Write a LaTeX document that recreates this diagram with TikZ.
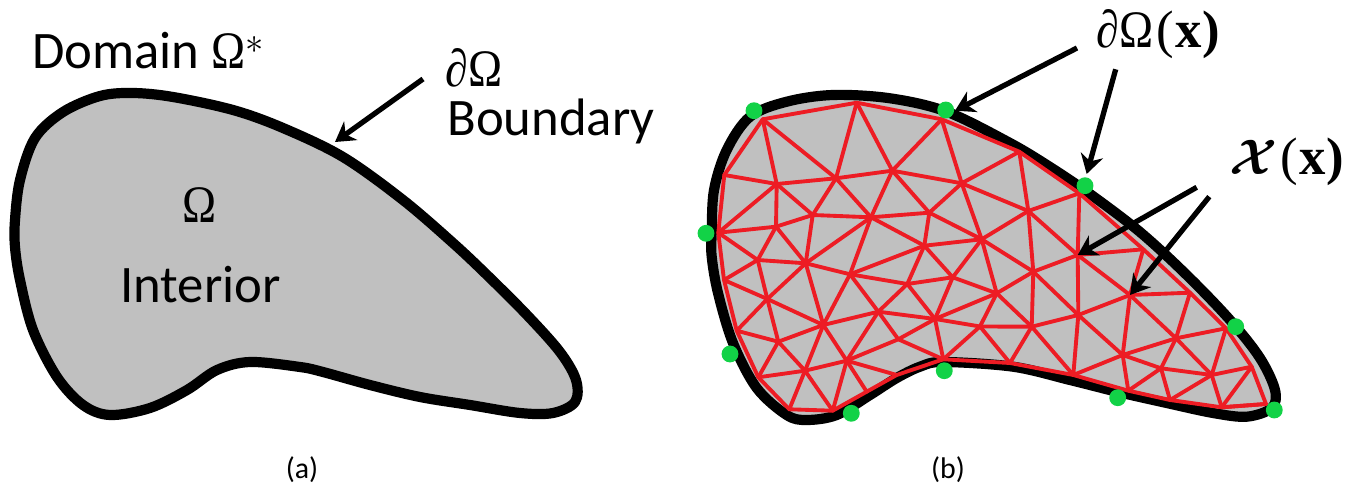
\documentclass[tikz,border=0pt]{standalone}
\usepackage{amsmath,amssymb}
\usepackage[no-math]{fontspec}
\setmainfont{Carlito}
\newfontfamily\symfont[FakeStretch=0.87]{Liberation Serif}
\newfontfamily\parenfont{Liberation Serif}
\usepackage{tikz}
\usetikzlibrary{arrows.meta, positioning}
\definecolor{meshred}{RGB}{237,28,36}
\definecolor{bndgreen}{RGB}{18,210,71}
\definecolor{domaingrey}{RGB}{192,192,192}
\tikzset{
  domainshape/.style={
    draw=black,
    fill=domaingrey,
    line width=5.8pt,
    line join=round
  },
  meshedge/.style={
    draw=meshred,
    line width=2.2pt,
    line cap=round
  },
  bnddot/.style={
    circle,
    fill=bndgreen,
    inner sep=0pt,
    minimum size=9.6pt
  },
  arrow/.style={
    -{Stealth[length=11pt,width=13pt]},
    line width=3pt
  },
  biglabel/.style={
    anchor=base west,
    inner sep=0pt,
    font=\fontsize{30}{36}\selectfont
  },
  caption/.style={
    inner sep=0pt,
    font=\fontsize{17}{20}\selectfont
  }
}
\newcommand{\xarg}{\hspace{2pt}{\parenfont(\hspace{0.5pt}\bfseries x\hspace{0.5pt})}}

\begin{document}
\begin{tikzpicture}[x=0.02cm,y=-0.02cm]
  \useasboundingbox (0,0) rectangle (1359,489);

  % (a) plain domain
  \draw[domainshape] plot[smooth cycle,tension=0.55] coordinates {
    (15,220) (20,180) (35,138) (63,112) (100,96) (133,93) (173,97) (233,110)
    (283,128) (343,157) (403,200) (453,243) (487,275) (527,315)
    (560,352) (576,380) (575,402) (553,413) (520,413) (470,405) (420,397)
    (370,385) (323,372) (300,367) (250,362) (217,370) (187,390) (150,408)
    (110,415) (83,405) (57,377) (33,330) (20,280) (15,247)};

  \node[biglabel] (domainlabel) at (32,69) {Domain {\symfont Ω}$^{*}$};
  \node[biglabel] (omegalabel) at (182,223) {\symfont Ω};
  \node[biglabel] (interiorlabel) at (120,303) {Interior};
  \node[biglabel] (partiallabel) at (445,87) {{\symfont\itshape ∂}{\symfont Ω}};
  \node[biglabel] (boundarylabel) at (447,136) {Boundary};
  \node[caption] (capa) at (302,470) {(a)};
  \node[caption] (capb) at (948,470) {(b)};

  \coordinate (bndstart) at (423,79);
  \coordinate (bndtip) at (335,142);
  \draw[arrow] (bndstart) -- (bndtip);

  % (b) meshed domain
  \draw[domainshape] plot[smooth cycle,tension=0.55] coordinates {
    (711.7,233) (714,190) (726.7,150) (750,116.7) (786.7,101.7) (833,95)
    (890,98.3) (946.7,111.7) (1010,143) (1050,167) (1090,194) (1140,232) (1186.7,275)
    (1230,320) (1260,358) (1275,390) (1271.7,408) (1246.7,416.7) (1213,413)
    (1166.7,403) (1116.7,391.7) (1070,380) (1013,366.7) (943,362) (920,366.7)
    (896.7,378) (870,395) (836.7,415) (806.7,420) (786.7,415) (756.7,388)
    (733,343) (718,293) (711.7,256.7)};

  % boundary vertices
  \foreach \name/\px/\py in {
    b1/762.7/119.3, b2/856.7/102.7, b3/941.7/119.3, b4/1019.3/151.7,
    b5/1079.3/193.3, b6/1143.3/249.3, b7/1190/292.7, b8/1226/328.3,
    b9/1251.7/366.7, b10/1266/404, b11/1221.7/407.3, b12/1170/400,
    b13/1128.3/390.7, b14/1073.3/375, b15/1010/363, b16/943.3/359.3,
    b17/896.7/375, b18/866.7/391.7, b19/832.7/410.7, b20/789.3/409.3,
    b21/758.3/377.3, b22/736.7/330.7, b23/724/280, b24/718.3/232.7,
    b25/724.3/175}
    \coordinate (\name) at (\px,\py);

  % interior vertices
  \foreach \name/\px/\py in {
    a/776.7/184, c/836/178.3, d/892.3/170.7, e/961.7/183.3, f/812.7/215,
    g/871/217.3, h/929.3/212.7, i/776/226.7, j/981.7/239.3, k/924.3/245.7,
    l/757.7/260, m/805.7/263.3, n/850/274.3, o/952.7/277.3, p/907.3/284,
    q/767.3/299, r/996.7/293.3, s/878.3/311.7, t/935/319, u/823.3/325,
    v/980/326.5, w/778.3/341.7, x/898.3/339.3, y/846.7/360.7, z/805/370.7,
    B/1028.3/211, E/1077.7/255, F/1033.3/271.7, G/1130/295, I/1078.3/315,
    J/1031.7/326.7, L/1176/338.3, M/1122.7/355, N/1161/368.3, O/1211.7/375}
    \coordinate (\name) at (\px,\py);

  \draw[meshedge,line join=round] (b1) -- (b2) -- (b3) -- (b4) -- (b5) -- (b6) -- (b7) -- (b8)
    -- (b9) -- (b10) -- (b11) -- (b12) -- (b13) -- (b14) -- (b15) -- (b16) -- (b17)
    -- (b18) -- (b19) -- (b20) -- (b21) -- (b22) -- (b23) -- (b24) -- (b25) -- cycle;

  \foreach \p/\q in {
    b1/a, b1/c, b2/c, b2/d, b3/d, b3/e, a/c, c/d, d/e, b25/a, a/b24, a/i, a/f,
    c/f, c/g, d/g, d/h, e/h, e/j, f/g, g/h, f/i, f/m, g/m, g/n, g/k, h/k, h/j,
    k/j, k/n, k/p, k/o, o/p, o/t, o/r, o/j, p/n, p/s, p/t, n/m, n/u, n/s, m/l,
    m/i, m/q, m/u, i/b24, i/l, l/b24, l/b23, l/q, q/b23, q/b22, q/w, q/u,
    w/b22, w/u, w/b21, w/z, u/z, u/s, u/y, s/y, s/x, s/t, x/t, x/y, x/b16,
    t/b16, t/v, t/r, y/z, y/b19, y/b18, y/b17, z/b21, z/b20, z/b19, v/b16,
    v/r, v/b15, e/b4, e/B, j/B, j/r, j/F, F/r, F/B, F/E, F/I, F/J, r/J, B/E,
    B/b5, b4/B, b5/E, E/b6, E/G, E/I, b6/G, G/b7, G/I, G/L, G/M, I/M, I/J,
    I/b14, J/b14, J/b15, J/v, M/b14, M/L, L/b8, L/b7, L/N, L/O, M/N, M/b13,
    N/b13, N/b12, N/O, O/b12, O/b11, O/b8, O/b9, b9/b11, b11/b10}
    \draw[meshedge] (\p) -- (\q);

  % green boundary samples
  \foreach \name/\px/\py in {
    dot1/754/110.7, dot2/945.7/110, dot3/706/233.3, dot4/730/354,
    dot5/851.3/413.3, dot6/944.3/370.7, dot7/1085/185.7, dot8/1235.7/326.7,
    dot9/1117.7/397.7, dot10/1274.3/410}
    \node[bnddot] (\name) at (\px,\py) {};

  \node[biglabel] (bndxlabel) at (1096,48) {{\symfont\itshape ∂}{\symfont Ω}\xarg};
  \node[biglabel] (intxlabel) at (1229,175) {\scalebox{1.14}{$\boldsymbol{\mathcal{X}}$}\xarg};

  \coordinate (dotstarta) at (1077,48);
  \coordinate (dotstartb) at (1115.7,69.3);
  \coordinate (intstarta) at (1196.7,187.3);
  \coordinate (intstartb) at (1209.3,196.7);
  \coordinate (dottipa) at (955,110.7);
  \coordinate (dottipb) at (1086.7,174);

  \draw[arrow] (dotstarta) -- (dottipa);
  \draw[arrow] (dotstartb) -- (dottipb);
  \draw[arrow] (intstarta) -- (E);
  \draw[arrow] (intstartb) -- (G);
\end{tikzpicture}
\end{document}
